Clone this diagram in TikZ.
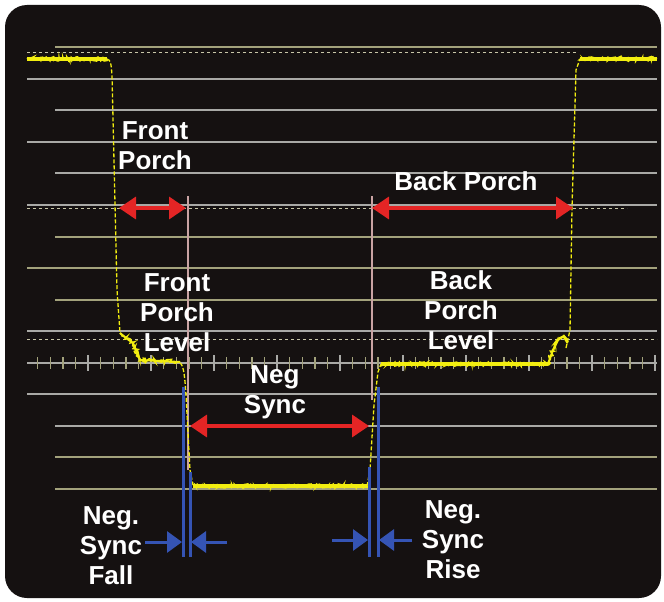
\documentclass[tikz,border=0pt]{standalone}
\usepackage{fontspec}
\setmainfont{Liberation Sans}
\usetikzlibrary{arrows.meta,decorations.pathmorphing}
\definecolor{bgblack}{HTML}{151111}
\definecolor{gridgray}{HTML}{A9A9A6}
\definecolor{gridolive}{HTML}{A3A27C}
\definecolor{dashcol}{HTML}{C8C6A8}
\definecolor{sigyellow}{HTML}{F2EE10}
\definecolor{arrred}{HTML}{E42525}
\definecolor{arrblue}{HTML}{3554B4}
\definecolor{pinkcol}{HTML}{C9A3A3}
\begin{document}
\begin{tikzpicture}[x=1pt,y=-1pt,
  lbl/.style={text=white,font=\bfseries\fontsize{26}{30}\selectfont,align=center,inner sep=0pt},
  gridg/.style={draw=gridgray,line width=1.3pt},
  grido/.style={draw=gridolive,line width=1.3pt},
  dashgrid/.style={draw=dashcol,line width=1pt,dash pattern=on 3pt off 3pt},
  sigbase/.style={draw=sigyellow,line width=3.2pt},
  sigflat/.style={draw=sigyellow,line width=1.4pt,decorate,decoration={random steps,segment length=1.2pt,amplitude=2.2pt}},
  sigedge/.style={draw=sigyellow,line width=1.3pt,dash pattern=on 4pt off 2pt},
  redarrow/.style={draw=arrred,line width=3.5pt,{Triangle[length=17pt,width=22pt]}-{Triangle[length=17pt,width=22pt]}},
  bluearrow/.style={draw=arrblue,line width=3pt,-{Triangle[length=15pt,width=21pt]}},
  blueline/.style={draw=arrblue,line width=3pt},
  pinkline/.style={draw=pinkcol,line width=1.6pt}]
\useasboundingbox (0,0) rectangle (664,602);
\fill[white] (0,0) rectangle (664,602);
\fill[bgblack,rounded corners=22pt] (5,5) rectangle (661,598);
\pgfmathsetseed{7}
% graticule
\foreach \yy in {47,237,268,300,457,489} {\draw[grido] (55,\yy) -- (657,\yy);}
\foreach \yy in {110,173,426} {\draw[gridg] (55,\yy) -- (657,\yy);}
\foreach \yy in {79,142,205,331,394} {\draw[gridg] (27,\yy) -- (657,\yy);}
\draw[gridolive,line width=1.3pt] (27,268) -- (55,268);
\draw[gridg] (27,363) -- (657,363);
\foreach \k in {0,...,49} {
  \pgfmathsetmacro{\xx}{37.6+12.6*\k}
  \pgfmathtruncatemacro{\mj}{mod(\k+1,5)==0}
  \ifnum\mj=1
    \draw[gridgray,line width=1.4pt] (\xx,355) -- (\xx,371);
  \else
    \draw[gridolive,line width=1.4pt] (\xx,357) -- (\xx,369);
  \fi
}
\draw[dashgrid] (27,53) -- (578,53);
\draw[dashgrid] (27,208) -- (627,208);
\draw[dashgrid] (27,339) -- (657,339);
% pink reference lines
\draw[pinkline] (188,196) -- (188,470);
\draw[pinkline] (372,196) -- (372,400);
% signal
\draw[sigbase] (27,59) -- (107,59);
\draw[sigflat] (27,59) -- (107,59);
\draw[sigbase] (580,59) -- (657,59);
\draw[sigflat] (580,59) -- (657,59);
\draw[sigedge] (107,59) .. controls (111,60) and (111,64) .. (112,75) -- (117,290) -- (120,333);
\draw[sigbase,line width=2pt] (120,333) -- (126,338) -- (133,343) -- (140,360) -- (180,362);
\draw[sigflat] (120,333) -- (126,338) -- (133,343) -- (140,360) -- (180,362);
\draw[sigedge] (180,363) .. controls (184,365) and (185,380) .. (186,395) -- (190,470) -- (193,485);
\draw[sigbase] (193,486) -- (367,486);
\draw[sigflat] (193,486) -- (367,486);
\draw[sigedge] (367,486) -- (370,470) -- (374,405) -- (378,372) -- (381,364);
\draw[sigbase] (381,364) -- (548,364);
\draw[sigflat] (381,364) -- (548,364);
\draw[sigbase,line width=2pt] (548,364) -- (553,350) -- (558,340) -- (564,336) -- (568,342);
\draw[sigflat] (548,364) -- (553,350) -- (558,340) -- (564,336) -- (568,342);
\draw[sigedge] (566,348) -- (570,330) -- (572,208) -- (576,70) -- (580,59);
% red arrows
\coordinate (fpL) at (119,208);
\coordinate (fpR) at (186,208);
\coordinate (bpL) at (372,208);
\coordinate (bpR) at (573,208);
\coordinate (nsL) at (190,426);
\coordinate (nsR) at (369,426);
\draw[redarrow] (fpL) -- (fpR);
\draw[redarrow] (bpL) -- (bpR);
\draw[redarrow] (nsL) -- (nsR);
% blue fall / rise markers
\draw[blueline] (183,387) -- (183,557);
\draw[blueline] (190,472) -- (190,557);
\draw[blueline] (369,467) -- (369,557);
\draw[blueline] (378,387) -- (378,557);
\coordinate (fa1) at (145,542);
\coordinate (fa2) at (227,542);
\coordinate (ri1) at (332,540);
\coordinate (ri2) at (412,540);
\draw[bluearrow] (fa1) -- (182,542);
\draw[bluearrow] (fa2) -- (191,542);
\draw[bluearrow] (ri1) -- (368,540);
\draw[bluearrow] (ri2) -- (379,540);
% labels
\node[lbl] (frontporch) at (155,146) {Front\\Porch};
\node[lbl] (backporch) at (466,181) {Back Porch};
\node[lbl] (fplevel) at (177,313) {Front\\Porch\\Level};
\node[lbl] (bplevel) at (461,310) {Back\\Porch\\Level};
\node[lbl] (negsync) at (275,392) {Neg\\Sync};
\node[lbl] (fall) at (111,546) {Neg.\\Sync\\Fall};
\node[lbl] (rise) at (453,540) {Neg.\\Sync\\Rise};
\end{tikzpicture}
\end{document}
